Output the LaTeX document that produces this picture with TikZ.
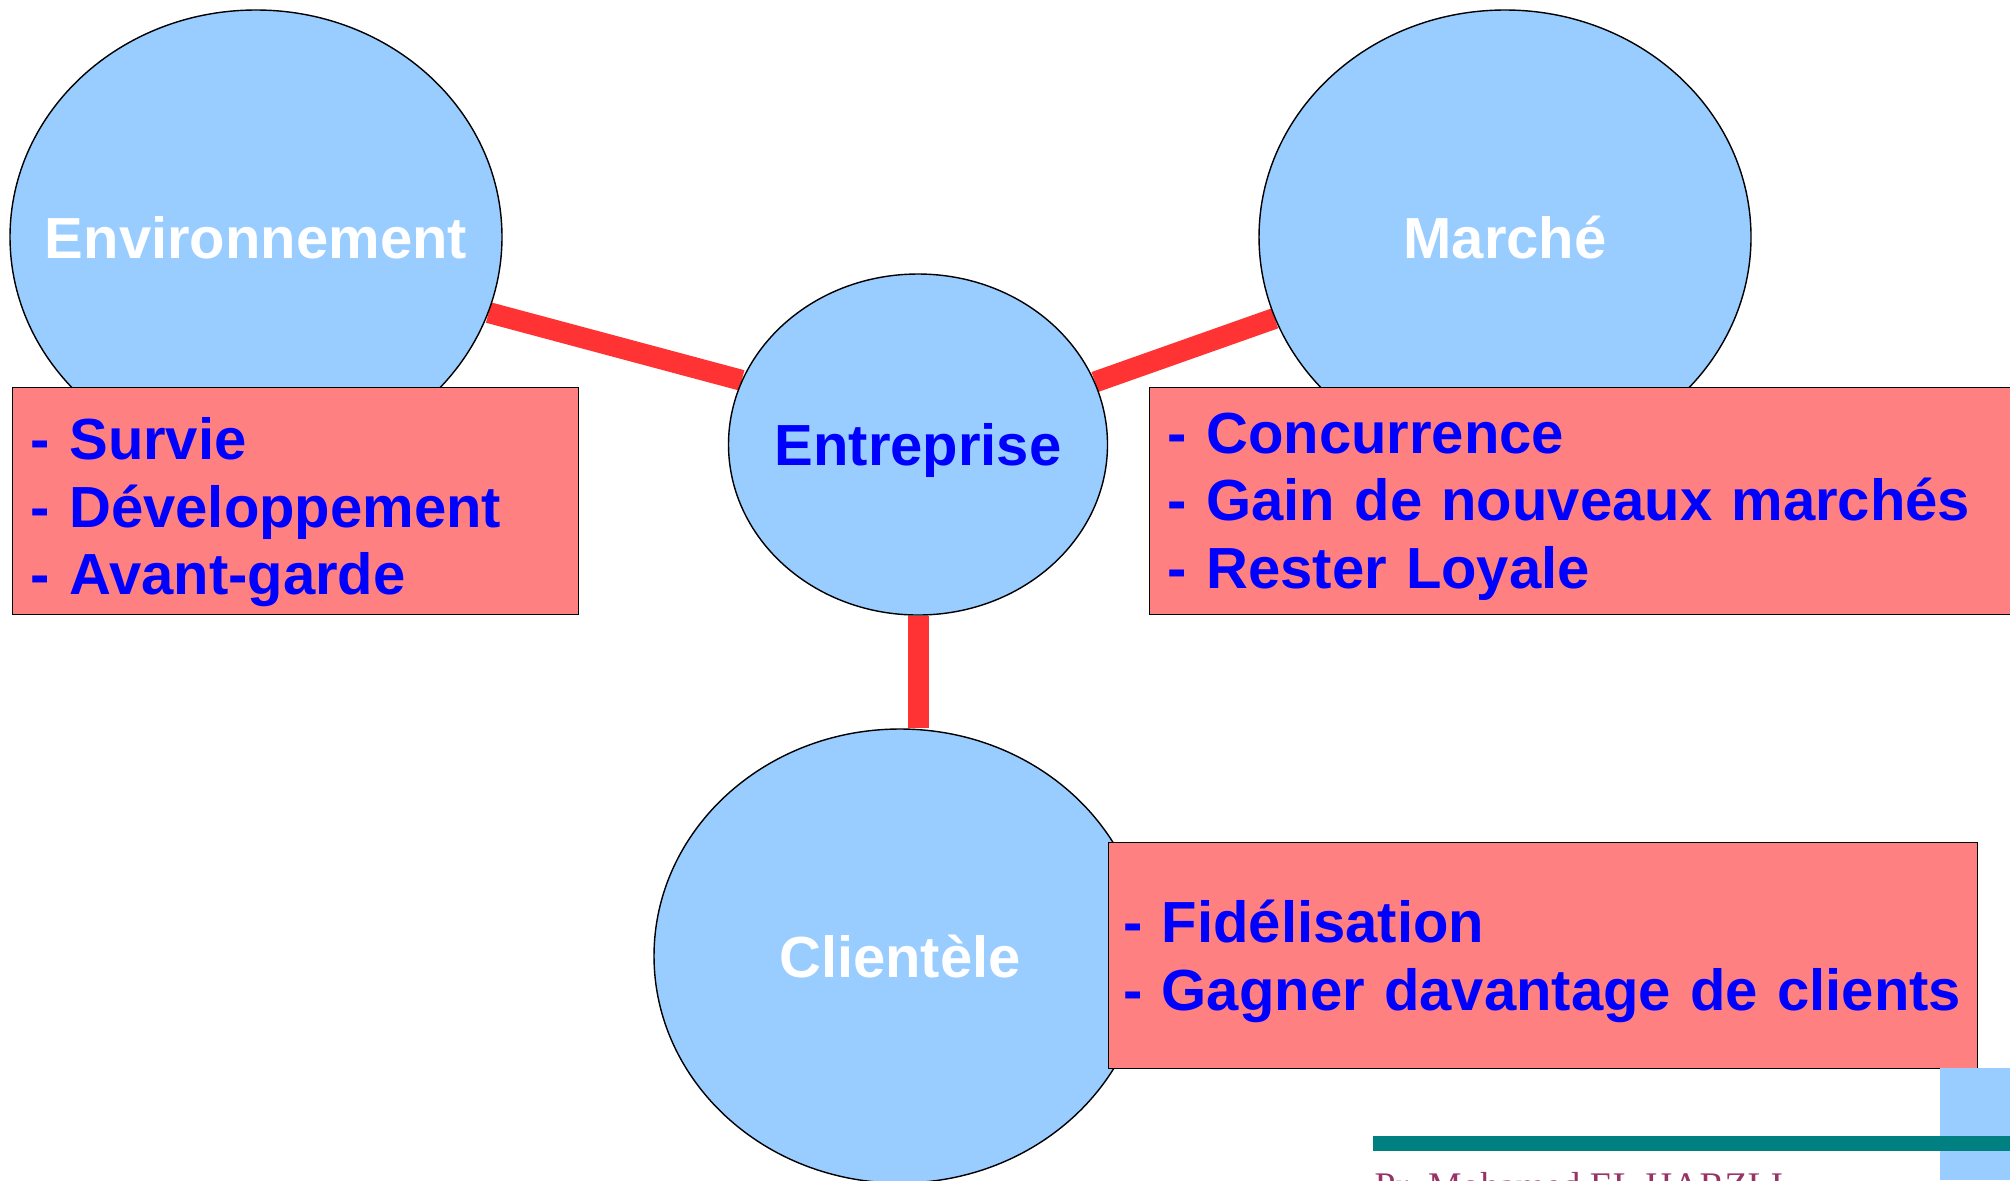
\documentclass[tikz,border=0pt]{standalone}
\usepackage{fontspec}
\setmainfont{Liberation Sans}
\newfontfamily\authorfont{Liberation Serif}
\usetikzlibrary{shapes,backgrounds}
\definecolor{poleblue}{HTML}{99CCFF}
\definecolor{notered}{HTML}{FF8080}
\definecolor{linkred}{HTML}{FF3333}
\definecolor{barteal}{HTML}{008080}
\definecolor{authorred}{HTML}{993366}
\newcommand{\polename}[1]{\makebox[0pt]{#1}}
\tikzset{%
  pole/.style={ellipse,minimum width=4.92cm,minimum height=4.54cm,
    draw,fill=poleblue,text=white,text depth=0pt,
    font=\bfseries\fontsize{16.5}{19.2}\selectfont},
  hub/.style={pole,minimum width=3.79cm,minimum height=3.41cm,text=blue},
  note/.style={rectangle,anchor=north west,draw,fill=notered,text=blue,
    align=left,minimum height=2.27cm,inner xsep=1.8mm,inner ysep=0pt,
    font=\bfseries\fontsize{16.5}{19.2}\selectfont},
  link/.style={draw=linkred,line width=2.1mm}
}

\begin{document}
\begin{tikzpicture}
  \useasboundingbox (0,0) rectangle (20.1,-11.8);

  \node [pole] (env) at (2.56,-2.37)  {\polename{Environnement}};
  \node [pole] (mar) at (15.05,-2.37) {\polename{Marché}};
  \node [hub]  (ent) at (9.18,-4.445) {\polename{Entreprise}};
  \node [pole] (cli) at (9.00,-9.56)  {\polename{Clientèle}};

  \node [note,text width=5.3cm,text height=18.2pt] (envnote) at (0.12,-3.87)
    {- Survie\\- Développement\\- Avant-garde};
  \node [note,text width=8.44cm,text height=14.6pt] (marnote) at (11.49,-3.87)
    {- Concurrence\\- Gain de nouveaux marchés\\- Rester Loyale};
  \node [note,text width=8.4cm,inner xsep=1.45mm,minimum height=2.26cm,text height=15.2pt] (clinote) at (11.08,-8.42)
    {- Fidélisation\\- Gagner davantage de clients};

  \begin{scope}[on background layer]
    \draw [link] (env.-18) -- (ent.160);
    \draw [link] (ent) -- (mar);
    \draw [link] (ent) -- (ent |- cli.north);
  \end{scope}

  % bas de page
  \fill [poleblue] (19.40,-10.68) rectangle (20.1,-11.8);
  \fill [barteal] (13.73,-11.36) rectangle (20.1,-11.51);
  \node [anchor=base west,inner sep=0pt,text=authorred,
    font=\authorfont\fontsize{10.7}{12}\selectfont] (author) at (13.74,-11.98)
    {Pr. Mohamed EL HARZLI};
\end{tikzpicture}
\end{document}
